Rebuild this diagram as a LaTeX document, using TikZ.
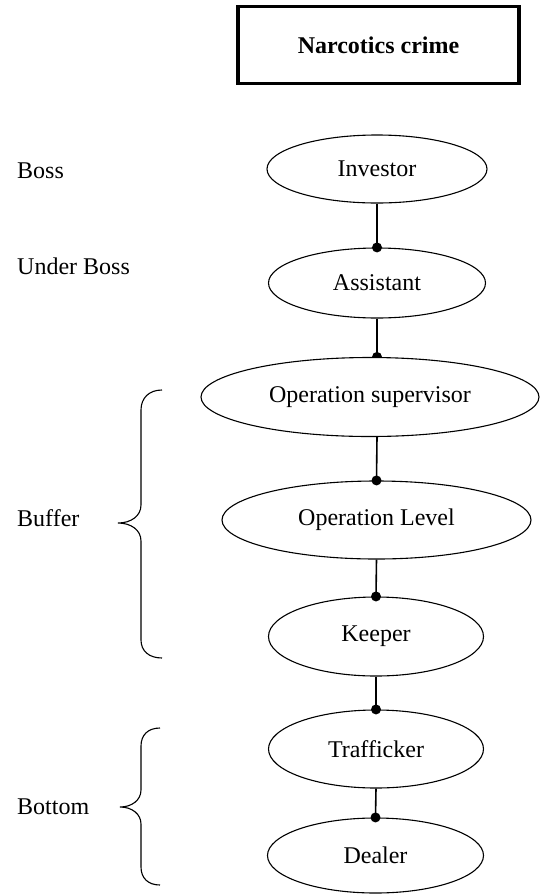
\documentclass[tikz,border=0pt]{standalone}
\usepackage{fontspec}
\setmainfont{Liberation Serif}
\usetikzlibrary{shapes.geometric}
\begin{document}
\begin{tikzpicture}[x=1pt,y=-1pt,
  role/.style={draw,ellipse,line width=1.1pt,fill=white,inner sep=0pt,font=\fontsize{24}{28}\selectfont},
  lvl/.style={anchor=west,inner sep=0pt,font=\fontsize{24}{28}\selectfont},
  conn/.style={line width=1.6pt},
  dot/.style={circle,fill=black,inner sep=0pt,minimum size=10pt},
  brace/.style={line width=1.1pt}]
\useasboundingbox (0,0) rectangle (542,895);
\node[draw,line width=3.3pt,minimum width=281pt,minimum height=77pt,inner sep=0pt,font=\bfseries\fontsize{24}{28}\selectfont] (title) at (378.5,45) {Narcotics crime};
\node[role,minimum width=220pt,minimum height=68pt] (inv) at (377,169) {Investor};
\node[role,minimum width=217pt,minimum height=70pt] (asst) at (377,283) {Assistant};
\node[role,minimum width=338pt,minimum height=79pt] (opsup) at (370,397) {Operation supervisor};
\node[role,minimum width=309pt,minimum height=78pt] (oplev) at (376.5,520) {Operation Level};
\node[role,minimum width=215pt,minimum height=79pt] (keep) at (376,636.5) {Keeper};
\node[role,minimum width=215pt,minimum height=78pt] (traf) at (376,749) {Trafficker};
\node[role,minimum width=216pt,minimum height=75pt] (deal) at (375.5,855.5) {Dealer};
\coordinate (c2) at (asst.south |- opsup.north);
\coordinate (c2b) at (asst.south |- opsup.south);
\draw[conn] (inv.south) -- (asst.north);
\draw[conn] (asst.south) -- (c2);
\draw[conn] (c2b) -- (oplev.north);
\draw[conn] (oplev.south) -- (keep.north);
\draw[conn] (keep.south) -- (traf.north);
\draw[conn] (traf.south) -- (deal.north);
\node[dot] (d1) at (asst.north) {};
\fill ([xshift=-5pt]c2) arc[start angle=180,end angle=0,radius=5pt] -- cycle;
\node[dot] (d3) at (oplev.north) {};
\node[dot] (d4) at (keep.north) {};
\node[dot] (d5) at (traf.north) {};
\node[dot] (d6) at (deal.north) {};
\node[lvl] (boss) at (17,171) {Boss};
\node[lvl] (uboss) at (17,266) {Under Boss};
\node[lvl] (buf) at (17,518) {Buffer};
\node[lvl] (bot) at (17,807) {Bottom};
\coordinate (b1t) at (162,390);
\coordinate (b1m) at (118,523);
\coordinate (b1b) at (162,658);
\draw[brace] (b1t) .. controls (149,390) and (141,398) .. (141,410) -- (141,505)
  .. controls (141,516) and (131,523) .. (b1m)
  .. controls (131,523) and (141,530) .. (141,541) -- (141,640)
  .. controls (141,651) and (149,658) .. (b1b);
\coordinate (b2t) at (160,728);
\coordinate (b2m) at (120,807);
\coordinate (b2b) at (160,885);
\draw[brace] (b2t) .. controls (148,728) and (141,735) .. (141,746) -- (141,790)
  .. controls (141,800) and (132,807) .. (b2m)
  .. controls (132,807) and (141,814) .. (141,824) -- (141,867)
  .. controls (141,878) and (148,885) .. (b2b);
\end{tikzpicture}
\end{document}
